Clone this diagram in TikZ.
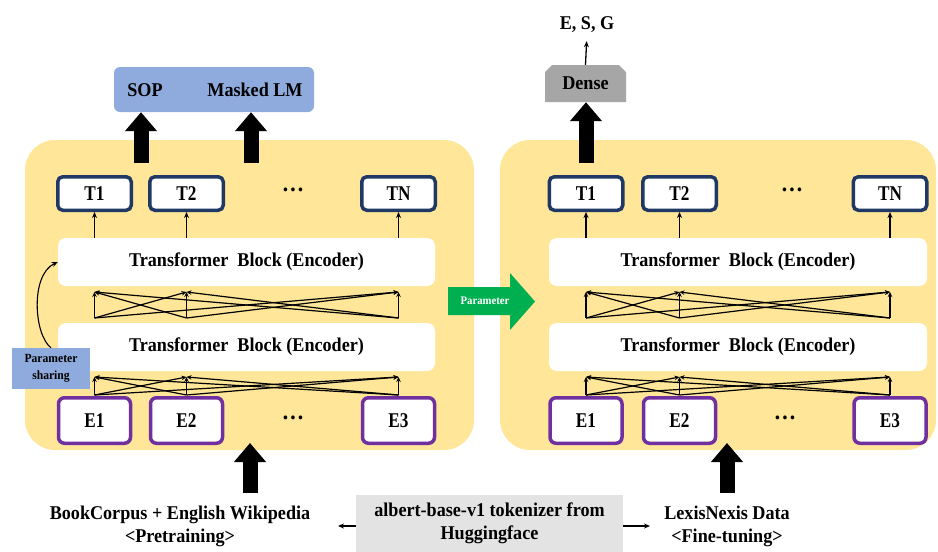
\documentclass[tikz,border=0pt]{standalone}
\usepackage{fontspec}
\setmainfont[FakeStretch=0.93]{Liberation Serif}
\newfontfamily\labfont[FakeStretch=0.82]{Liberation Serif}
\usetikzlibrary{arrows.meta,shapes.misc}
\definecolor{panel}{HTML}{FFE699}
\definecolor{tborder}{HTML}{1F3864}
\definecolor{eborder}{HTML}{7030A0}
\definecolor{lblue}{HTML}{8FAADC}
\definecolor{dgray}{HTML}{A6A6A6}
\definecolor{lgray}{HTML}{E3E3E3}
\definecolor{pgreen}{HTML}{00B050}
\begin{document}
\begin{tikzpicture}[x=1pt,y=-1pt,
  every node/.style={font=\bfseries\fontsize{19.5}{23}\selectfont, inner sep=0pt},
  panelbox/.style={fill=panel, rounded corners=30pt, minimum width=#1, minimum height=310pt},
  tbox/.style={draw=tborder, line width=3.5pt, fill=white, rounded corners=5pt, minimum width=73.5pt, minimum height=33.5pt, font=\labfont\bfseries\fontsize{21}{22}\selectfont},
  ebox/.style={draw=eborder, line width=3.5pt, fill=white, rounded corners=6pt, minimum width=72pt, minimum height=45.5pt, font=\labfont\bfseries\fontsize{21}{22}\selectfont},
  tblock/.style={fill=white, rounded corners=8pt, minimum width=#1, minimum height=48pt},
  dots/.style={font=\bfseries\fontsize{24}{24}\selectfont},
  thinarrow/.style={line width=1.3pt, -{Stealth[length=6pt,width=5pt]}},
  crossline/.style={line width=1.2pt, -{Stealth[length=5pt,width=4.5pt]}},
  bigarrow/.style={line width=15pt, -{Triangle[width=31pt,length=19pt]}},
  smallarrow/.style={line width=1.3pt, -{Stealth[length=6pt,width=5pt]}}
]
\useasboundingbox (0,0) rectangle (938,552);

% panels
\node[panelbox=449pt] (lpanel) at (249.5,295) {};
\node[panelbox=436pt] (rpanel) at (718,295) {};

% transformer blocks
\node[tblock=377pt] (ltb1) at (246.5,262) {Transformer\ \ Block (Encoder)};
\node[tblock=377pt] (ltb2) at (246.5,347) {Transformer\ \ Block (Encoder)};
\node[tblock=378pt] (rtb1) at (738,262) {Transformer\ \ Block (Encoder)};
\node[tblock=378pt] (rtb2) at (738,347) {Transformer\ \ Block (Encoder)};

% T boxes
\node[tbox] (lt1) at (94.5,193.5) {T1};
\node[tbox] (lt2) at (186.5,193.5) {T2};
\node[tbox] (ltn) at (398.5,193.5) {TN};
\node[dots] (ltd) at (293,190) {…};
\node[tbox] (rt1) at (586,193.5) {T1};
\node[tbox] (rt2) at (679.5,193.5) {T2};
\node[tbox] (rtn) at (890,193.5) {TN};
\node[dots] (rtd) at (792,190) {…};

% E boxes
\node[ebox] (le1) at (94.5,420.5) {E1};
\node[ebox] (le2) at (186.5,420.5) {E2};
\node[ebox] (le3) at (398.5,420.5) {E3};
\node[dots] (led) at (293,418) {…};
\node[ebox] (re1) at (586,420.5) {E1};
\node[ebox] (re2) at (679.5,420.5) {E2};
\node[ebox] (re3) at (890,420.5) {E3};
\node[dots] (red) at (785,418) {…};

% arrows transformer -> T
\foreach \t in {lt1,lt2,ltn} \draw[thinarrow] (ltb1.north -| \t) -- (\t.south);
\foreach \t in {rt1,rt2,rtn} \draw[thinarrow] (rtb1.north -| \t) -- (\t.south);

% cross connections
\foreach \xs [count=\i] in {94.5,186.5,398.5} {
  \coordinate (Lub\i) at (\xs,318); \coordinate (Lut\i) at (\xs,292);
  \coordinate (Llb\i) at (\xs,395); \coordinate (Llt\i) at (\xs,377);
}
\foreach \xs [count=\i] in {586,679.5,890} {
  \coordinate (Rub\i) at (\xs,318); \coordinate (Rut\i) at (\xs,292);
  \coordinate (Rlb\i) at (\xs,395); \coordinate (Rlt\i) at (\xs,377);
}
\foreach \i in {1,2,3} {
  \foreach \j in {1,2,3} {
    \draw[crossline] (Lub\i) -- (Lut\j);
    \draw[crossline] (Llb\i) -- (Llt\j);
    \draw[crossline] (Rub\i) -- (Rut\j);
    \draw[crossline] (Rlb\i) -- (Rlt\j);
  }
}

% parameter sharing
\node[fill=lblue, minimum width=78pt, minimum height=41pt, align=center,
      font=\bfseries\fontsize{12.5}{17}\selectfont] (ps) at (51,368.5) {Parameter\\sharing};
\draw[thinarrow, line width=1.1pt] (ps.north) .. controls (34,335) and (30,275) .. (ltb1.west);

% green parameter arrow
\fill[pgreen] (448,287) -- (510,287) -- (510,273) -- (535,301.5) -- (510,330) -- (510,315) -- (448,315) -- cycle;
\node[text=white, font=\bfseries\fontsize{11.5}{13}\selectfont] (ptxt) at (485,301) {Parameter};

% heads
\node[fill=lblue, rounded corners=6pt, minimum width=200pt, minimum height=45pt] (head) at (214,89.5) {};
\node (sop) at (145,90) {SOP};
\node (mlm) at (255,90) {Masked LM};
\node[chamfered rectangle, chamfered rectangle corners={north west,north east}, chamfered rectangle xsep=4pt,
      fill=dgray, minimum width=81pt, minimum height=37pt] (dense) at (585.5,83.5) {Dense};
\node (esg) at (587,25) {E, S, G};
\draw[thinarrow, shorten >=8pt] (dense.north) -- (esg.south);

% big arrows up to heads
\coordinate (la1) at (141,163);
\coordinate (la2) at (251,163);
\coordinate (ra1) at (586,163);
\draw[bigarrow] (la1) -- (la1 |- head.south);
\draw[bigarrow] (la2) -- (la2 |- head.south);
\draw[bigarrow] (ra1) -- (ra1 |- dense.south);

% bottom
\node[align=center] (book) at (180,526) {BookCorpus + English Wikipedia\\<Pretraining>};
\node[fill=lgray, minimum width=267pt, minimum height=57pt, align=center] (tok) at (489.5,523.5) {albert-base-v1 tokenizer from\\Huggingface};
\node[align=center] (lex) at (727,526) {LexisNexis Data\\<Fine-tuning>};
\coordinate (sl) at (338,526);
\coordinate (sr) at (650,526);
\draw[smallarrow] (tok.west |- sl) -- (sl);
\draw[smallarrow] (tok.east |- sr) -- (sr);

\coordinate (lb) at (250,493);
\coordinate (lbt) at (250,443);
\coordinate (rb) at (727,493);
\coordinate (rbt) at (727,443);
\draw[bigarrow] (lb) -- (lbt);
\draw[bigarrow] (rb) -- (rbt);
\end{tikzpicture}
\end{document}
